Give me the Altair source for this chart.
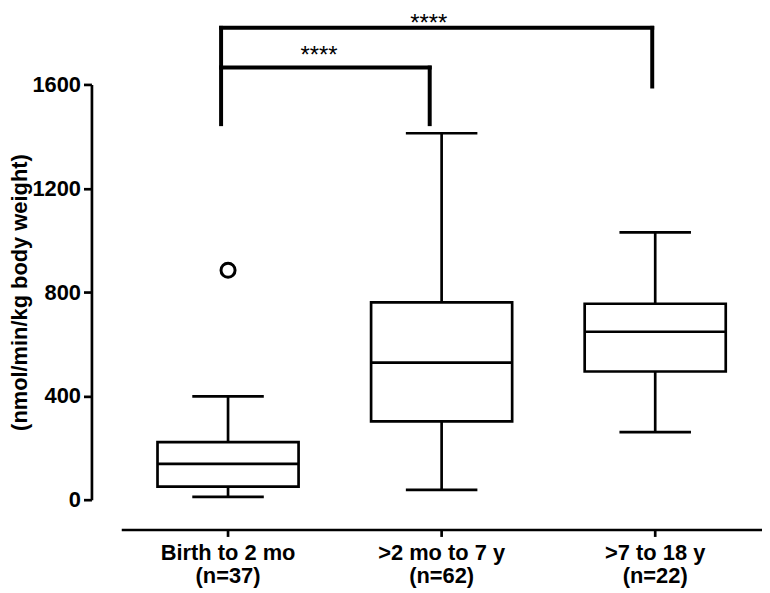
import altair as alt
import pandas as pd

# ---- data ----
categories = ["Birth to 2 mo", ">2 mo to 7 y", ">7 to 18 y"]
n_values = [37, 62, 22]
whisker_low = [11, 38, 260]
q1 = [50, 302, 494]
median = [138, 528, 647]
q3 = [222, 760, 755]
whisker_high = [398, 1412, 1030]

outlier_group = ["Birth to 2 mo"]
outlier_value = [884]

bracket_from = ["Birth to 2 mo", "Birth to 2 mo"]
bracket_to = [">2 mo to 7 y", ">7 to 18 y"]
bracket_top = [1665, 1818]
bracket_from_bottom = [1447, 1665]
bracket_to_bottom = [1447, 1592]
bracket_text = ["****", "****"]

y_ticks = [0, 400, 800, 1200, 1600]

# ---- tables ----
labels = [f"{c}\n(n={n})" for c, n in zip(categories, n_values)]
lab = dict(zip(categories, labels))

box_df = pd.DataFrame({
    "group": labels, "lo": whisker_low, "q1": q1, "med": median,
    "q3": q3, "hi": whisker_high,
})
out_df = pd.DataFrame({"group": [lab[g] for g in outlier_group], "value": outlier_value})

FONT = "Liberation Sans"
LW = 2.7

x_scale = alt.Scale(domain=labels, paddingInner=0, paddingOuter=0)
y_scale = alt.Scale(domain=[0, 1600], nice=False, zero=True)

X_AXIS = alt.Axis(
    title=None, labelExpr="split(datum.label, '\\n')", labelAngle=0,
    offset=30, labelPadding=6, labelFontSize=22, labelLineHeight=23,
)
Y_AXIS = alt.Axis(
    title="(nmol/min/kg body weight)", values=y_ticks, format="d", offset=30,
    tickSize=8, labelPadding=3, labelFontSize=22, titleFontSize=22, titlePadding=0,
)

def xn(f, **kw):
    return alt.X(f, scale=x_scale, axis=X_AXIS, **kw)

def yq(f):
    return alt.Y(f, scale=y_scale, axis=Y_AXIS, title="(nmol/min/kg body weight)")

base = alt.Chart(box_df)
X = xn("group:N")
whisk_up = base.mark_rule(color="black", strokeWidth=LW).encode(
    x=X, y=yq("q3:Q"), y2="hi:Q")
whisk_lo = base.mark_rule(color="black", strokeWidth=LW).encode(
    x=X, y=yq("lo:Q"), y2="q1:Q")
box = base.mark_bar(fill="white", stroke="black", strokeWidth=LW, size=142,
                    strokeJoin="miter", opacity=1).encode(x=X, y=yq("q1:Q"), y2="q3:Q")
med = base.mark_tick(color="black", thickness=LW, size=142, opacity=1).encode(
    x=X, y=yq("med:Q"))
cap_hi = base.mark_tick(color="black", thickness=LW, size=72, opacity=1).encode(
    x=X, y=yq("hi:Q"))
cap_lo = base.mark_tick(color="black", thickness=LW, size=72, opacity=1).encode(
    x=X, y=yq("lo:Q"))

outlier = alt.Chart(out_df).mark_point(
    shape="circle", filled=False, color="black", size=200, strokeWidth=3, opacity=1
).encode(x=X, y=yq("value:Q"))

# brackets
BW = 4
from_offset = -7
to_offsets = [-12, -3]
text_dx = [-16, -13]
text_dy = [-5, 3]
layers = [whisk_up, whisk_lo, box, med, cap_hi, cap_lo, outlier]
for i in range(len(bracket_from)):
    bdf = pd.DataFrame({
        "a": [lab[bracket_from[i]]], "b": [lab[bracket_to[i]]],
        "top": [bracket_top[i]], "abot": [bracket_from_bottom[i]],
        "bbot": [bracket_to_bottom[i]], "txt": [bracket_text[i]],
    })
    bc = alt.Chart(bdf)
    left_v = bc.mark_rule(color="black", strokeWidth=BW, strokeCap="square",
                          xOffset=from_offset).encode(
        x=xn("a:N"), y=yq("abot:Q"), y2="top:Q")
    right_v = bc.mark_rule(color="black", strokeWidth=BW, strokeCap="square",
                           xOffset=to_offsets[i]).encode(
        x=xn("b:N"), y=yq("bbot:Q"), y2="top:Q")
    horiz = bc.mark_rule(color="black", strokeWidth=BW, strokeCap="square",
                         xOffset=from_offset, x2Offset=to_offsets[i]).encode(
        x=xn("a:N"), x2="b:N", y=yq("top:Q"))
    if i == 0:
        tx = xn("a:N", bandPosition=1)
    else:
        tx = xn("grp:N")
        bc = bc.transform_calculate(grp=f"'{labels[1]}'".replace("\n", "\\n"))
    txt = bc.mark_text(font=FONT, fontSize=24, color="black", baseline="alphabetic",
                       align="center", dx=text_dx[i], dy=text_dy[i]).encode(
        x=tx, y=yq("top:Q"), text="txt:N")
    layers += [left_v, right_v, horiz, txt]

chart = alt.layer(*layers).properties(
    width=645, height=418,
    autosize=alt.AutoSizeParams(type="none"),
    padding={"left": 114, "top": 75, "right": 0, "bottom": 92},
    background="white",
).configure_view(stroke=None).configure_axis(
    grid=False, domain=True, ticks=True, domainColor="black", domainWidth=LW,
    tickColor="black", tickWidth=LW, tickSize=7,
    labelFont=FONT, labelFontWeight="bold", labelColor="black",
    titleFont=FONT, titleFontWeight="bold", titleColor="black",
)

chart.save("out.html", embed_options={"renderer": "svg", "actions": False})
